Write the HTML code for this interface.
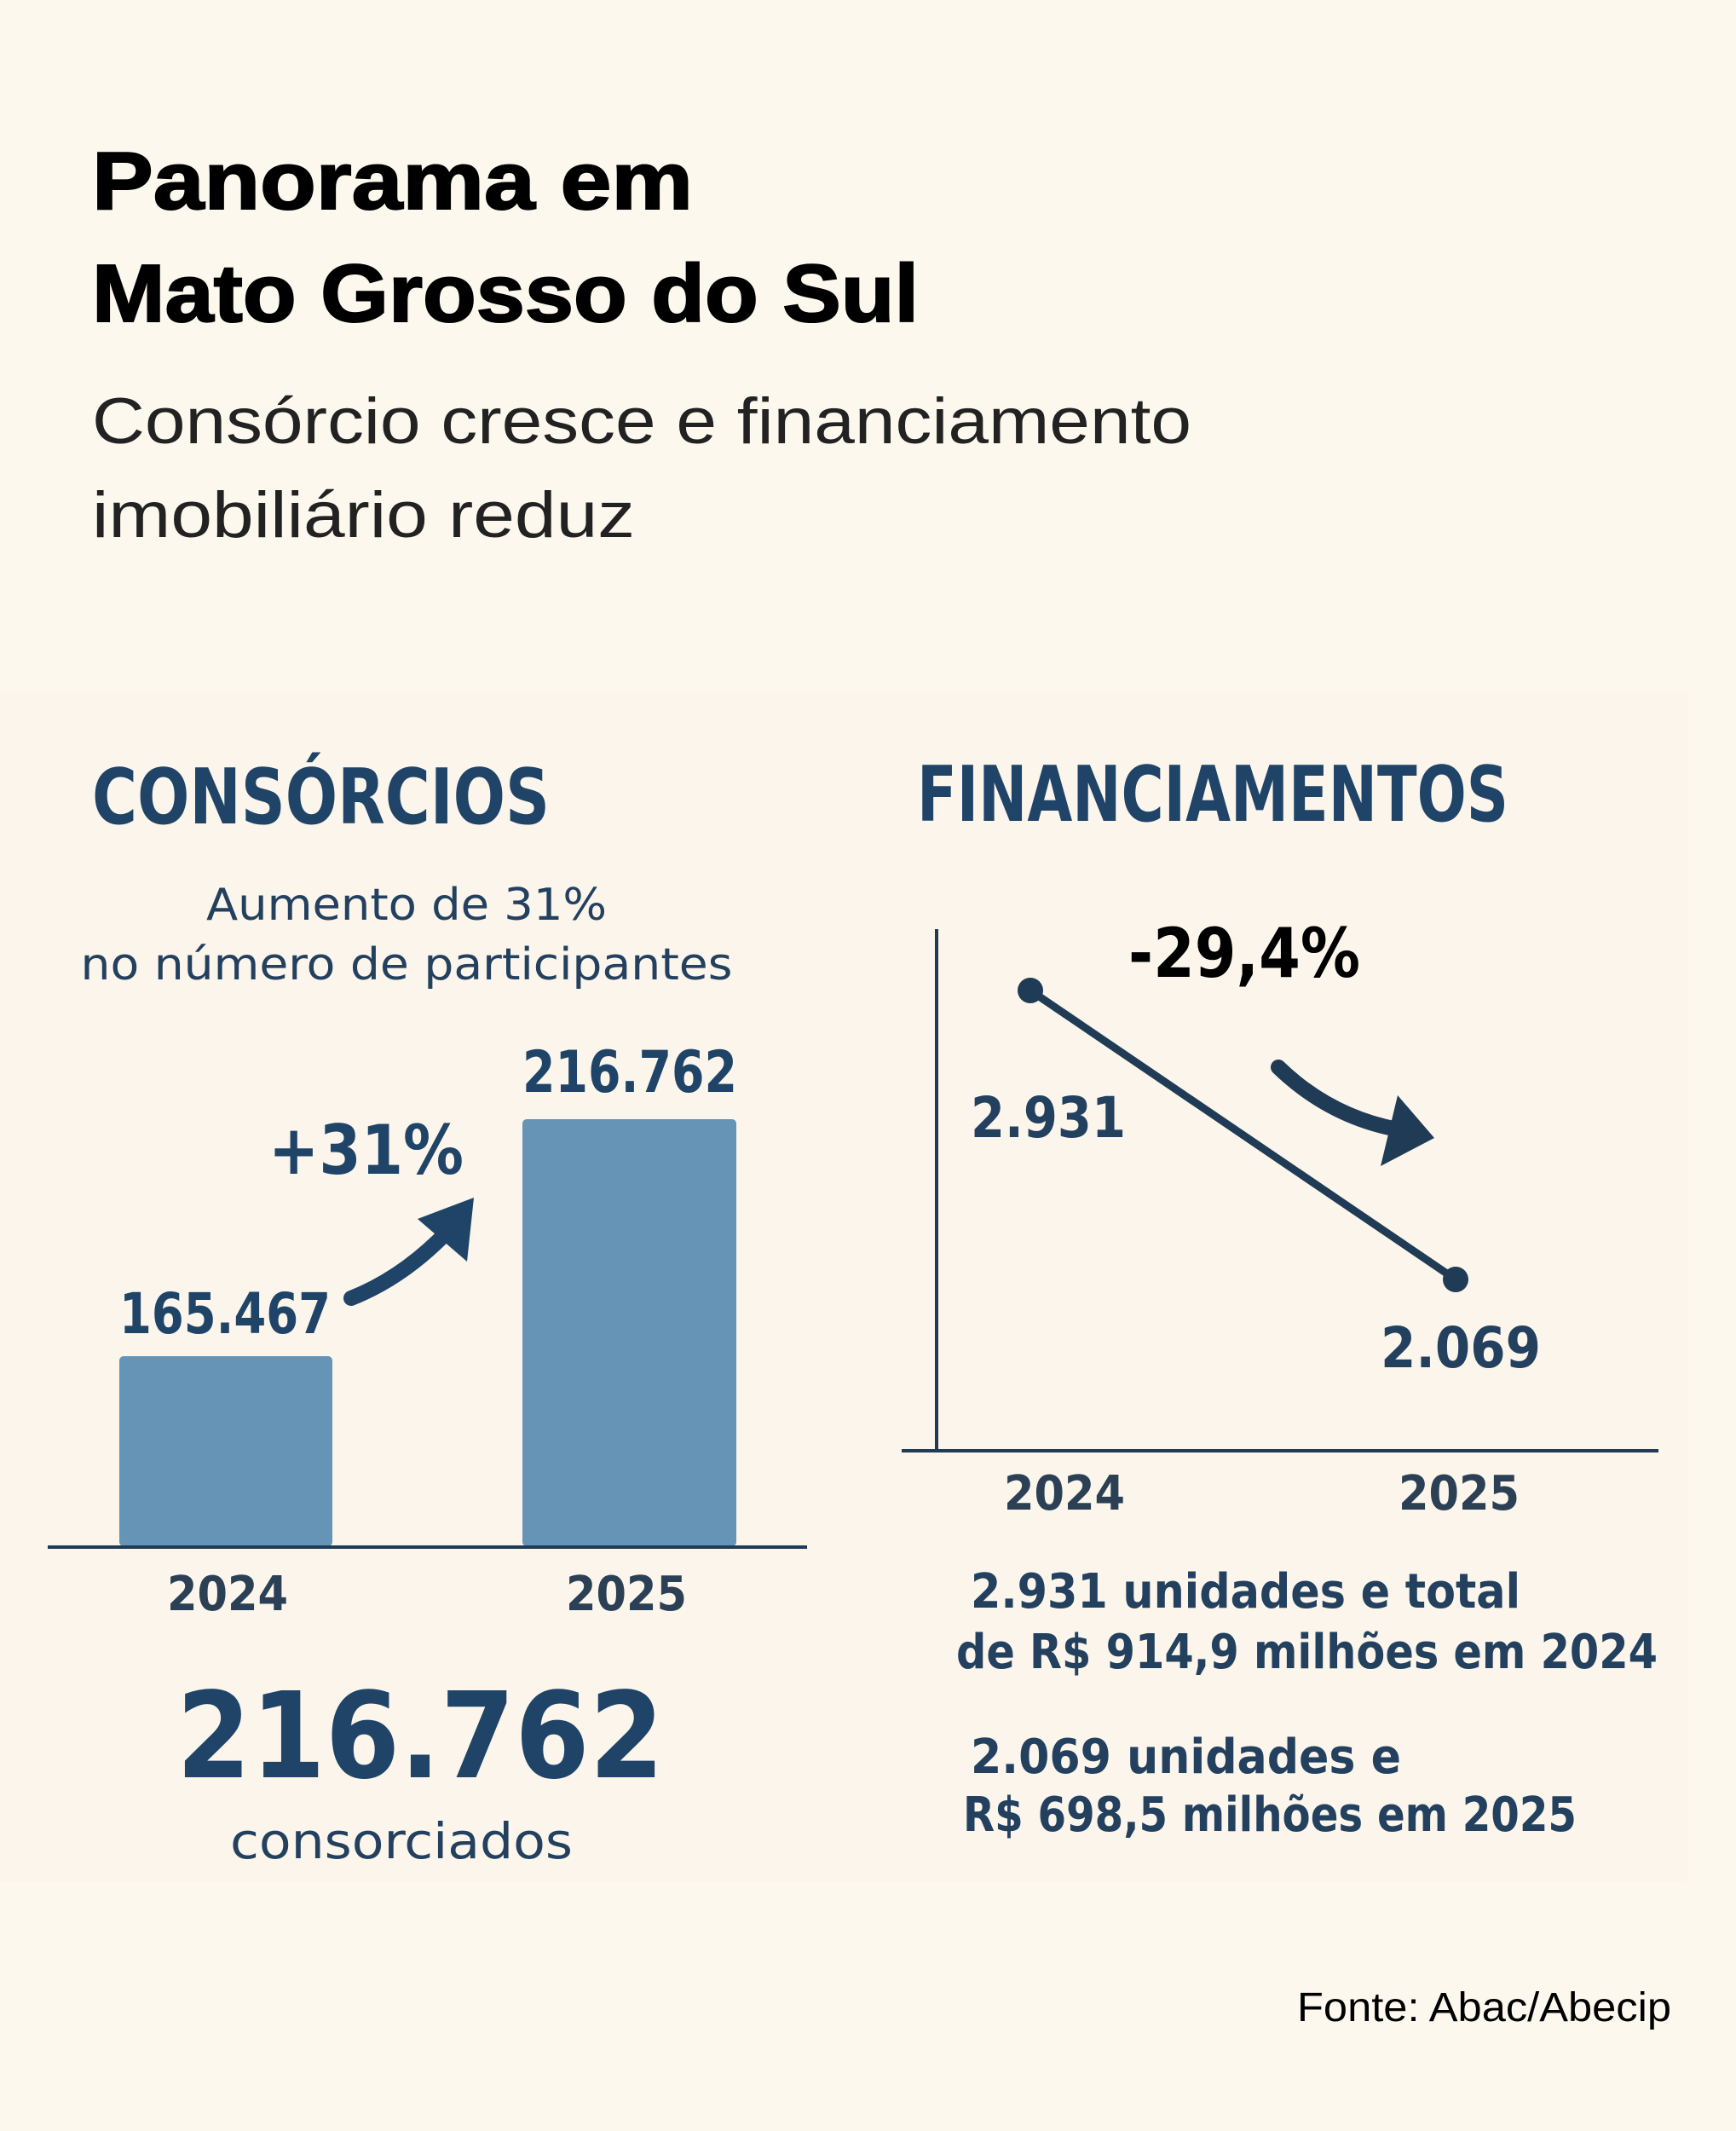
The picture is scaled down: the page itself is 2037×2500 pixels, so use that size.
<!DOCTYPE html>
<html><head><meta charset="utf-8"><style>
html,body{margin:0;padding:0;background:#fcf8ee;}
svg{display:block}
</style></head><body>
<svg width="2037" height="2500" viewBox="0 0 2037 2500" xmlns="http://www.w3.org/2000/svg">
<rect width="2037" height="2500" fill="#fcf8ee"/>
<rect x="0" y="812" width="1980" height="1395" fill="#fbf5eb"/>
<g font-family="Liberation Sans, sans-serif" fill="#000">
<text x="108" y="245" font-size="96" font-weight="bold" stroke="#000" stroke-width="2" textLength="705" lengthAdjust="spacingAndGlyphs">Panorama em</text>
<text x="108" y="377" font-size="96" font-weight="bold" stroke="#000" stroke-width="2" textLength="970" lengthAdjust="spacingAndGlyphs">Mato Grosso do Sul</text>
<text x="108" y="520" font-size="76" fill="#222" textLength="1290" lengthAdjust="spacingAndGlyphs">Consórcio cresce e financiamento</text>
<text x="108" y="630" font-size="76" fill="#222" textLength="637" lengthAdjust="spacingAndGlyphs">imobiliário reduz</text>
<text x="1961" y="2371" font-size="48" text-anchor="end" textLength="439" lengthAdjust="spacingAndGlyphs">Fonte: Abac/Abecip</text>
</g>
<g font-family="DejaVu Sans Condensed, DejaVu Sans, sans-serif" font-weight="bold" fill="#1f4468">
<text x="108" y="966" font-size="90" textLength="537" lengthAdjust="spacingAndGlyphs">CONSÓRCIOS</text>
<text x="477" y="1079" font-size="52" text-anchor="middle" font-weight="normal" fill="#23405f" textLength="470" lengthAdjust="spacingAndGlyphs">Aumento de 31%</text>
<text x="477" y="1149" font-size="52" text-anchor="middle" font-weight="normal" fill="#23405f" textLength="765" lengthAdjust="spacingAndGlyphs">no número de participantes</text>
<text x="613" y="1281" font-size="68" textLength="252" lengthAdjust="spacingAndGlyphs">216.762</text>
<text x="140" y="1564" font-size="66" textLength="248" lengthAdjust="spacingAndGlyphs">165.467</text>
<text x="315" y="1377" font-size="80" textLength="229" lengthAdjust="spacingAndGlyphs">+31%</text>
<rect x="140" y="1591" width="250" height="223" rx="5" fill="#6594b7"/>
<rect x="613" y="1313" width="251" height="501" rx="5" fill="#6594b7"/>
<line x1="56" y1="1815" x2="947" y2="1815" stroke="#1f3b55" stroke-width="4"/>
<path d="M412 1523 Q470 1500 520 1450" stroke="#1f4468" stroke-width="18" fill="none" stroke-linecap="round"/>
<polygon points="556,1405 548,1480 490,1430" fill="#1f4468"/>
<text x="267" y="1889" font-size="56" text-anchor="middle" fill="#2b3f55" textLength="142" lengthAdjust="spacingAndGlyphs">2024</text>
<text x="735" y="1889" font-size="56" text-anchor="middle" fill="#2b3f55" textLength="142" lengthAdjust="spacingAndGlyphs">2025</text>
<text x="493" y="2085" font-size="140" text-anchor="middle" fill="#1f4468" textLength="572" lengthAdjust="spacingAndGlyphs">216.762</text>
<text x="471" y="2180" font-size="58" text-anchor="middle" font-weight="normal" fill="#23405f" textLength="402" lengthAdjust="spacingAndGlyphs">consorciados</text>

<text x="1076" y="963" font-size="90" textLength="694" lengthAdjust="spacingAndGlyphs">FINANCIAMENTOS</text>
<line x1="1099" y1="1090" x2="1099" y2="1702" stroke="#1f3b55" stroke-width="4"/>
<line x1="1058" y1="1702" x2="1946" y2="1702" stroke="#1f3b55" stroke-width="4"/>
<text x="1324" y="1146" font-size="80" fill="#000" textLength="272" lengthAdjust="spacingAndGlyphs">-29,4%</text>
<line x1="1209" y1="1162" x2="1708" y2="1501" stroke="#1f3b55" stroke-width="9"/>
<circle cx="1209" cy="1162" r="15" fill="#1f3b55"/>
<circle cx="1708" cy="1501" r="15" fill="#1f3b55"/>
<text x="1139" y="1334" font-size="66" fill="#23405f" textLength="182" lengthAdjust="spacingAndGlyphs">2.931</text>
<text x="1620" y="1604" font-size="66" fill="#23405f" textLength="188" lengthAdjust="spacingAndGlyphs">2.069</text>
<path d="M1500 1252 Q1560 1310 1640 1325" stroke="#1f3b55" stroke-width="18" fill="none" stroke-linecap="round"/>
<polygon points="1683,1335 1620,1368 1640,1285" fill="#1f3b55"/>
<text x="1249" y="1771" font-size="56" text-anchor="middle" fill="#2b3f55" textLength="142" lengthAdjust="spacingAndGlyphs">2024</text>
<text x="1712" y="1771" font-size="56" text-anchor="middle" fill="#2b3f55" textLength="142" lengthAdjust="spacingAndGlyphs">2025</text>
<g font-size="56" fill="#23405f">
<text x="1139" y="1886" textLength="645" lengthAdjust="spacingAndGlyphs">2.931 unidades e total</text>
<text x="1122" y="1957" textLength="823" lengthAdjust="spacingAndGlyphs">de R$ 914,9 milhões em 2024</text>
<text x="1139" y="2080" textLength="505" lengthAdjust="spacingAndGlyphs">2.069 unidades e</text>
<text x="1130" y="2148" textLength="720" lengthAdjust="spacingAndGlyphs">R$ 698,5 milhões em 2025</text>
</g>
</g>
</svg>
</body></html>
